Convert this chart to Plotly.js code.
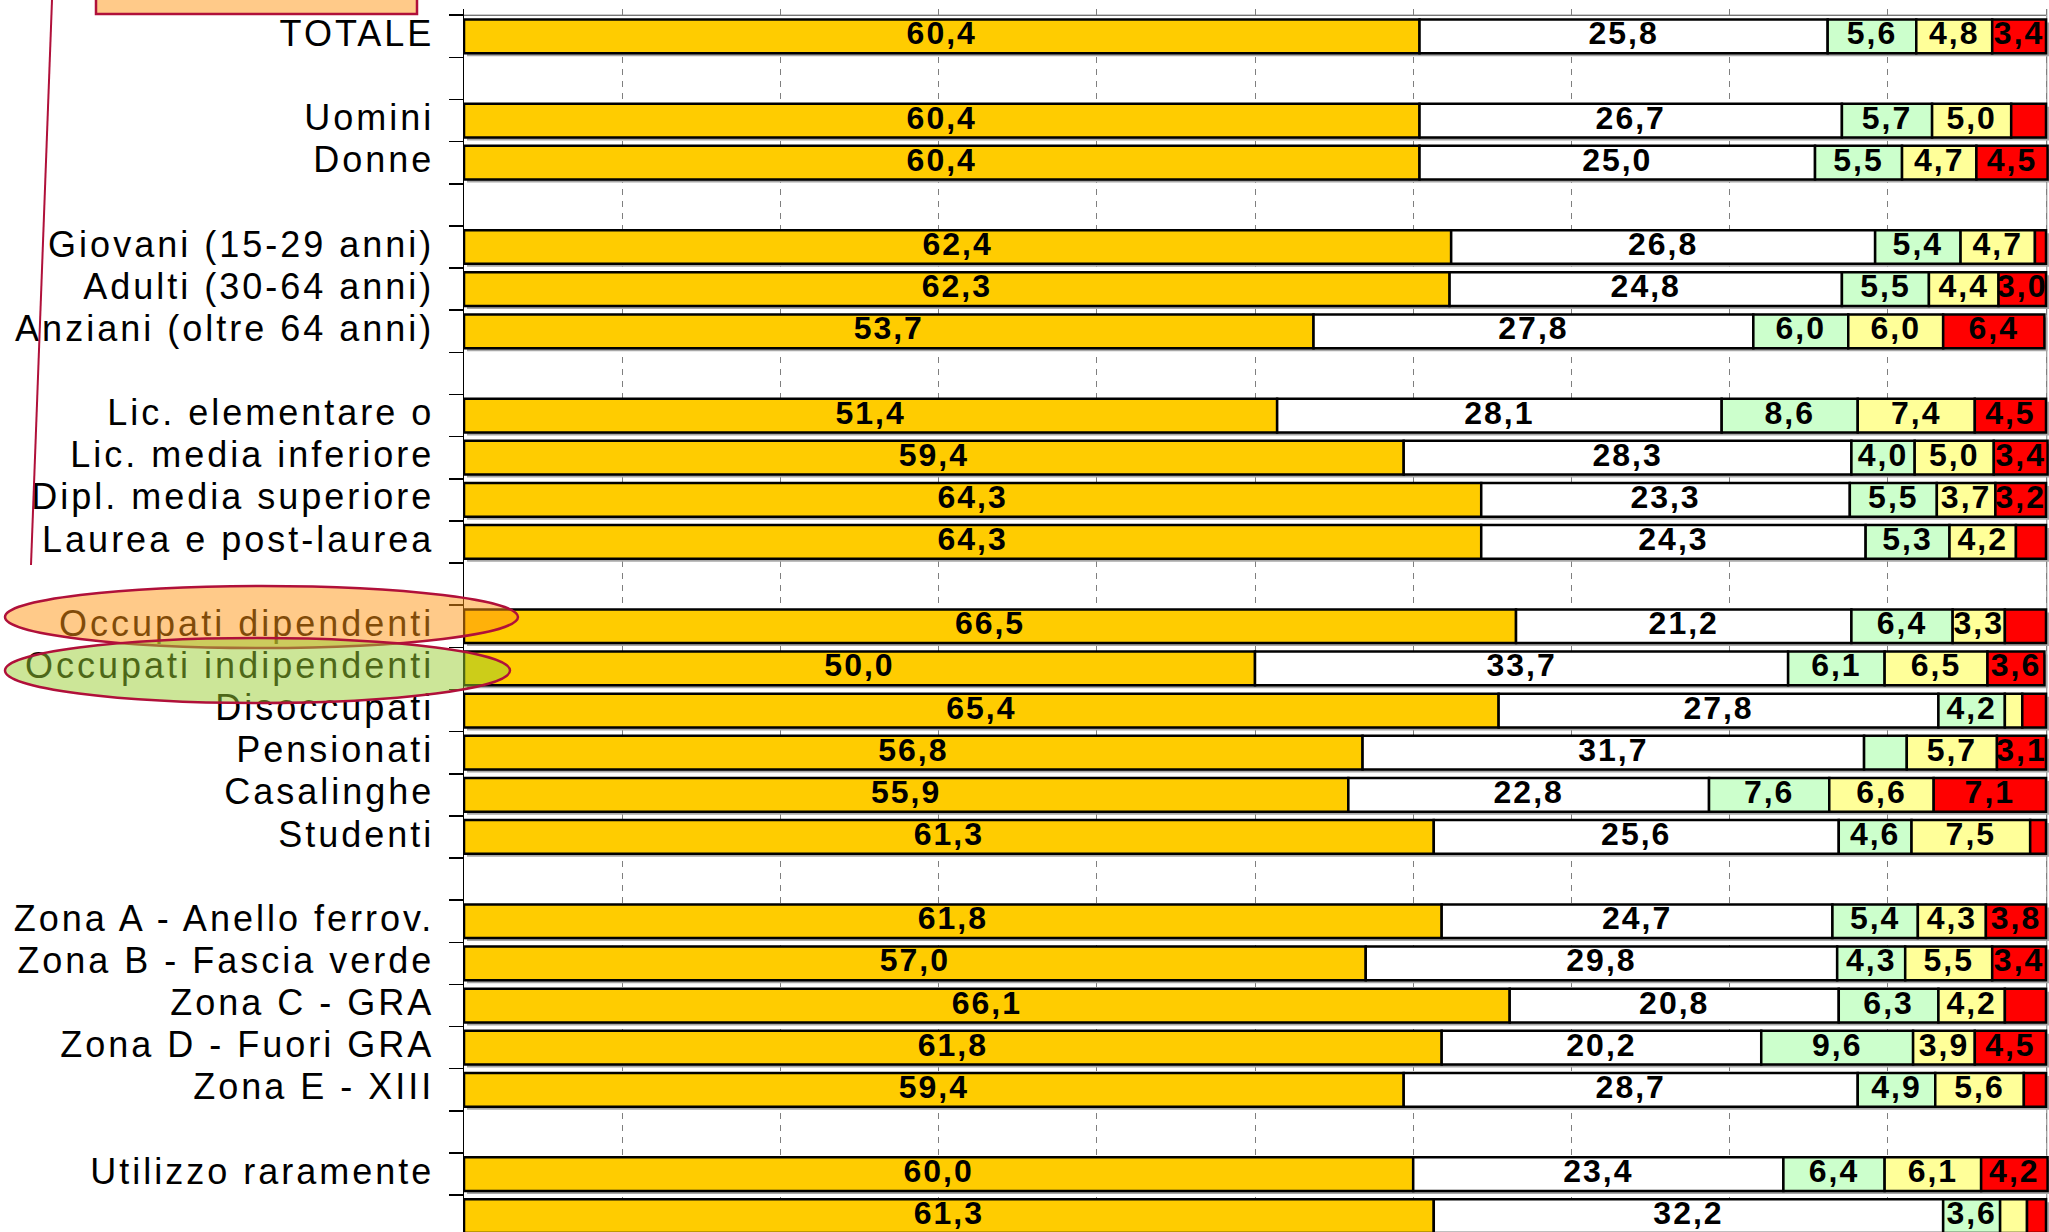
<!DOCTYPE html>
<html>
<head>
<meta charset="utf-8">
<script src="https://cdn.plot.ly/plotly-3.0.1.min.js"></script>
<style>html,body{margin:0;padding:0;background:#fff;}#chart{width:2049px;height:1232px;}</style>
</head>
<body>
<div id="chart"></div>
<script>
// ---- data ----
const categories = ["TOTALE","","Uomini","Donne","","Giovani (15-29 anni)","Adulti (30-64 anni)","Anziani (oltre 64 anni)","","Lic. elementare o","Lic. media inferiore","Dipl. media superiore","Laurea e post-laurea","","Occupati dipendenti","Occupati indipendenti","Disoccupati","Pensionati","Casalinghe","Studenti","","Zona A - Anello ferrov.","Zona B - Fascia verde","Zona C - GRA","Zona D - Fuori GRA","Zona E - XIII","","Utilizzo raramente","Utilizzo mai"];

const seriesGold   = [60.4,null,60.4,60.4,null,62.4,62.3,53.7,null,51.4,59.4,64.3,64.3,null,66.5,50.0,65.4,56.8,55.9,61.3,null,61.8,57.0,66.1,61.8,59.4,null,60.0,61.3];
const seriesWhite  = [25.8,null,26.7,25.0,null,26.8,24.8,27.8,null,28.1,28.3,23.3,24.3,null,21.2,33.7,27.8,31.7,22.8,25.6,null,24.7,29.8,20.8,20.2,28.7,null,23.4,32.2];
const seriesGreen  = [5.6,null,5.7,5.5,null,5.4,5.5,6.0,null,8.6,4.0,5.5,5.3,null,6.4,6.1,4.2,2.7,7.6,4.6,null,5.4,4.3,6.3,9.6,4.9,null,6.4,3.6];
const seriesYellow = [4.8,null,5.0,4.7,null,4.7,4.4,6.0,null,7.4,5.0,3.7,4.2,null,3.3,6.5,1.1,5.7,6.6,7.5,null,4.3,5.5,4.2,3.9,5.6,null,6.1,1.7];
const seriesRed    = [3.4,null,2.2,4.5,null,0.7,3.0,6.4,null,4.5,3.4,3.2,1.9,null,2.6,3.6,1.5,3.1,7.1,1.0,null,3.8,3.4,2.6,4.5,1.4,null,4.2,1.2];

const seriesList = [seriesGold, seriesWhite, seriesGreen, seriesYellow, seriesRed];
const seriesColors = ["#FFCC00", "#FFFFFF", "#CCFFCC", "#FFFF99", "#FF0000"];
const labelMin = 3.0; // values below this carry no label in the original

// ---- build traces ----
const rows = categories.map((c, i) => i);
const W = 2049, H = 1232, ML = 464, MT = 9;
const plotW = W - ML, plotH = H - MT;
const pxPerUnitX = 15.82;
const pxPerRow = 42.14;
const xMax = plotW / pxPerUnitX;
const yTop = -27.3 / pxPerRow;           // value at plot top
const yBottom = yTop + plotH / pxPerRow; // value at plot bottom
const barW = 0.8;

const traces = [];
// drop shadow
const totals = rows.map(i => categories[i] === "" ? null :
  seriesList.reduce((s, arr) => s + (arr[i] || 0), 0));
traces.push({
  type: "bar", orientation: "h", y: rows, x: totals,
  base: rows.map(() => 3 / pxPerUnitX),
  width: barW, offset: -barW / 2 + 3 / pxPerRow,
  marker: {color: "#A8A8A8", line: {width: 0}},
  hoverinfo: "skip"
});

const cum = rows.map(() => 0);
const textX = [], textY = [], textT = [];
seriesList.forEach((arr, k) => {
  const base = rows.map(i => arr[i] == null ? null : cum[i]);
  traces.push({
    type: "bar", orientation: "h", y: rows, x: arr, base: base,
    width: barW,
    marker: {color: seriesColors[k], line: {color: "#000000", width: 2.5}},
    hoverinfo: "skip"
  });
  rows.forEach(i => {
    const v = arr[i];
    if (v == null) return;
    if (v >= labelMin) {
      textX.push(cum[i] + v / 2);
      textY.push(i);
      textT.push('<span style="letter-spacing:2px">' + v.toFixed(1).replace(".", ",") + '</span>');
    }
    cum[i] += v;
  });
});
traces.push({
  type: "scatter", mode: "text", x: textX, y: textY, text: textT,
  textposition: "middle center",
  textfont: {family: "Liberation Sans, Arial, sans-serif", size: 32, color: "#000000", weight: "bold"},
  cliponaxis: false, hoverinfo: "skip"
});

const tickvals = rows.filter(i => categories[i] !== "");
const ticktext = tickvals.map(i => '<span style="letter-spacing:3px">' + categories[i] + '</span>');
const boundaries = rows.map(i => i - 0.5).concat([rows.length - 0.5]);

// pixel -> paper helpers for the overlay drawings
const px2x = px => (px - ML) / plotW;
const py2y = py => 1 - (py - MT) / plotH;
const dark = "#B0103A";

const layout = {
  width: W, height: H,
  margin: {l: ML, r: 0, t: MT, b: 0, pad: 0},
  paper_bgcolor: "#FFFFFF", plot_bgcolor: "#FFFFFF",
  barmode: "overlay", showlegend: false,
  xaxis: {
    range: [0, xMax], tick0: 0, dtick: 10,
    showgrid: true, gridcolor: "#7F7F7F", gridwidth: 1, griddash: "6px,6px",
    zeroline: false, showline: false, showticklabels: false, ticks: "", fixedrange: true
  },
  yaxis: {
    range: [yBottom, yTop],
    tickmode: "array", tickvals: tickvals, ticktext: ticktext,
    ticks: "", showgrid: false, zeroline: false,
    showline: true, linecolor: "#000000", linewidth: 1.5,
    tickfont: {family: "Liberation Sans, Arial, sans-serif", size: 36, color: "#000000"},
    ticklabelstandoff: 21, ticklabelshift: 3,
    minor: {tickmode: "array", tickvals: boundaries, ticks: "outside", ticklen: 14,
            tickcolor: "#000000", tickwidth: 1.5, showgrid: false},
    fixedrange: true
  },
  shapes: [
    {type: "line", xref: "x", yref: "y", x0: 0, x1: 100, y0: -0.5, y1: -0.5,
     line: {color: "#404040", width: 1}, layer: "below"},
    {type: "line", xref: "x", yref: "paper", x0: 100.05, x1: 100.05, y0: 0, y1: 1,
     line: {color: "#808080", width: 1}, layer: "below"},
    {type: "rect", xref: "paper", yref: "paper",
     x0: px2x(96), x1: px2x(417), y0: py2y(14), y1: py2y(-6),
     fillcolor: "rgba(255,150,20,0.5)", line: {color: dark, width: 2.5}, layer: "above"},
    {type: "line", xref: "paper", yref: "paper",
     x0: px2x(52), y0: py2y(0), x1: px2x(31), y1: py2y(565),
     line: {color: dark, width: 2}, layer: "above"},
    {type: "circle", xref: "paper", yref: "paper",
     x0: px2x(5), x1: px2x(518), y0: py2y(648), y1: py2y(586),
     fillcolor: "rgba(255,150,20,0.5)", line: {color: dark, width: 2.5}, layer: "above"},
    {type: "circle", xref: "paper", yref: "paper",
     x0: px2x(5), x1: px2x(510), y0: py2y(703), y1: py2y(638),
     fillcolor: "rgba(154,205,50,0.5)", line: {color: dark, width: 2.5}, layer: "above"}
  ]
};

Plotly.newPlot("chart", traces, layout, {displayModeBar: false, staticPlot: true});
</script>
</body>
</html>
